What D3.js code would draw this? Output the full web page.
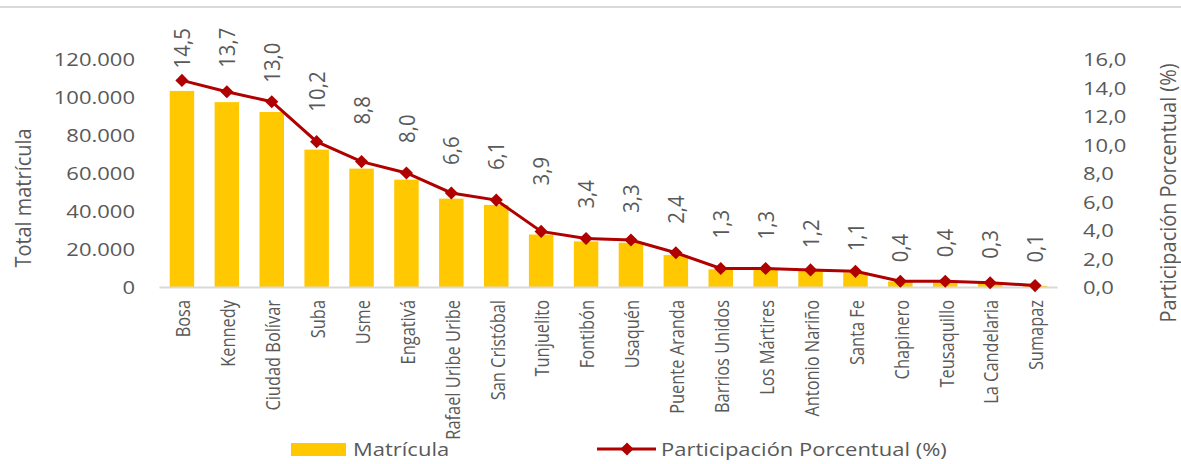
<!DOCTYPE html>
<html>
<head>
<meta charset="utf-8">
<script src="https://cdn.jsdelivr.net/npm/d3@7"></script>
<style>
  body { margin: 0; background: #fff; }
  text { font-family: "Open Sans", sans-serif; fill: #595959; }
</style>
</head>
<body>
<script>
// localidades
const localidades = ["Bosa", "Kennedy", "Ciudad Bolívar", "Suba", "Usme", "Engativá",
  "Rafael Uribe Uribe", "San Cristóbal", "Tunjuelito", "Fontibón", "Usaquén",
  "Puente Aranda", "Barrios Unidos", "Los Mártires", "Antonio Nariño", "Santa Fe",
  "Chapinero", "Teusaquillo", "La Candelaria", "Sumapaz"];

// total matricula
const matricula = [103200, 97300, 92100, 72300, 62300, 56500, 46500, 43200, 27600, 24000,
  23300, 16800, 9300, 9000, 8400, 7700, 2900, 2700, 2000, 600];

// participacion porcentual (%)
const participacion = [14.5, 13.7, 13.0, 10.2, 8.8, 8.0, 6.6, 6.1, 3.9, 3.4,
  3.3, 2.4, 1.3, 1.3, 1.2, 1.1, 0.4, 0.4, 0.3, 0.1];

const leftTicks = [0, 20000, 40000, 60000, 80000, 100000, 120000];
const rightTicks = [0, 2, 4, 6, 8, 10, 12, 14, 16];

// gap (px) between each marker and its rotated label, labels were nudged by hand in the original
const labelGap = [12, 24, 19, 30, 37, 30, 28, 30, 46, 30, 27, 29, 30, 29, 22, 20, 19, 24, 24, 23];

const W = 1181, H = 464;
const x0 = 159.5, x1 = 1057.5, yBase = 287, yTop = 59;

const svg = d3.select("body").append("svg")
  .attr("width", W).attr("height", H);

// thin border line at the top
svg.append("line")
  .attr("x1", 0).attr("x2", W).attr("y1", 7).attr("y2", 7)
  .attr("stroke", "#d9d9d9").attr("stroke-width", 2);

const x = d3.scaleBand().domain(localidades).range([x0, x1]).paddingInner(0.455).paddingOuter(0.2275);
const yL = d3.scaleLinear().domain([0, 120000]).range([yBase, yTop]);
const yR = d3.scaleLinear().domain([0, 16]).range([yBase, yTop]);

const fmtL = d => d3.format(",")(d).replace(/,/g, ".");
const fmtR = d => d.toFixed(1).replace(".", ",");

// horizontal text squashed a bit vertically, vertical text squashed along its run
function hText(g, px, py, txt, size, anchor) {
  return g.append("text")
    .attr("transform", `translate(${px},${py}) scale(1,0.83)`)
    .attr("text-anchor", anchor)
    .attr("dominant-baseline", "central")
    .style("font-size", size + "px")
    .text(txt);
}
function vText(g, px, py, txt, size, anchor, sx) {
  return g.append("text")
    .attr("transform", `translate(${px},${py}) rotate(-90) scale(${sx},1)`)
    .attr("text-anchor", anchor)
    .attr("dominant-baseline", "central")
    .style("font-size", size + "px")
    .text(txt);
}

// bars
svg.append("g").selectAll("rect")
  .data(localidades)
  .join("rect")
  .attr("x", d => x(d))
  .attr("width", x.bandwidth())
  .attr("y", (d, i) => yL(matricula[i]))
  .attr("height", (d, i) => yBase - yL(matricula[i]))
  .attr("fill", "#ffc800");

// x axis line
svg.append("line")
  .attr("x1", x0).attr("x2", x1).attr("y1", yBase + 0.5).attr("y2", yBase + 0.5)
  .attr("stroke", "#d9d9d9").attr("stroke-width", 2);

// line series
const cx = d => x(d) + x.bandwidth() / 2;
const line = d3.line().x(d => cx(d)).y((d, i) => yR(participacion[i]));
svg.append("path")
  .datum(localidades)
  .attr("d", line)
  .attr("fill", "none")
  .attr("stroke", "#b00000")
  .attr("stroke-width", 3);

const diamond = d3.symbol().type(d3.symbolDiamond2).size(110);
svg.append("g").selectAll("path")
  .data(localidades)
  .join("path")
  .attr("d", diamond)
  .attr("transform", (d, i) => `translate(${cx(d)},${yR(participacion[i])})`)
  .attr("fill", "#b00000");

// data labels
const lab = svg.append("g");
localidades.forEach((d, i) => {
  vText(lab, cx(d), yR(participacion[i]) - labelGap[i], fmtR(participacion[i]), 21, "start", 0.97);
});

// category labels
const cat = svg.append("g");
localidades.forEach(d => {
  vText(cat, cx(d), 300, d, 20.5, "end", 0.8);
});

// left axis
const la = svg.append("g");
leftTicks.forEach(t => hText(la, 135, yL(t), fmtL(t), 22, "end"));
vText(svg, 23, 198, "Total matrícula", 21, "middle", 0.95);

// right axis
const ra = svg.append("g");
rightTicks.forEach(t => hText(ra, 1083, yR(t), fmtR(t), 22, "start"));
vText(svg, 1168, 193, "Participación Porcentual (%)", 21, "middle", 0.95);

// legend
const lg = svg.append("g");
lg.append("rect").attr("x", 291).attr("y", 443).attr("width", 55).attr("height", 13).attr("fill", "#ffc800");
hText(lg, 353, 449, "Matrícula", 22, "start");
lg.append("line").attr("x1", 597).attr("x2", 656).attr("y1", 449).attr("y2", 449)
  .attr("stroke", "#b00000").attr("stroke-width", 3);
lg.append("path").attr("d", diamond).attr("transform", "translate(627,449)").attr("fill", "#b00000");
hText(lg, 661, 449, "Participación Porcentual (%)", 22, "start");
</script>
</body>
</html>
